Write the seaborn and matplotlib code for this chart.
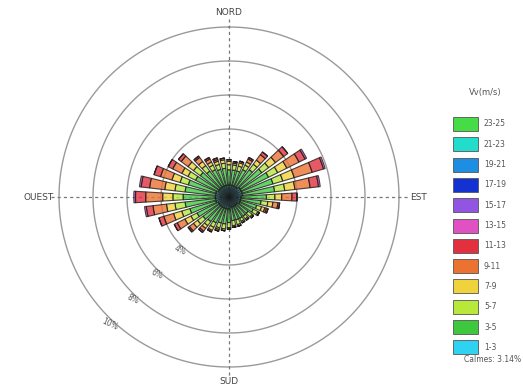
import numpy as np
import matplotlib
matplotlib.use("Agg")
import matplotlib.pyplot as plt
from matplotlib.patches import Rectangle
import seaborn as sns

# Wind directions (degrees from north, clockwise)
directions = [0, 10, 20, 30, 40, 50, 60, 70, 80, 90, 100, 110,
              120, 130, 140, 150, 160, 170, 180, 190, 200, 210, 220, 230,
              240, 250, 260, 270, 280, 290, 300, 310, 320, 330, 340, 350]

# Frequency (%) per speed class and direction
v_1_3 = [0.7, 0.7, 0.7, 0.7, 0.7, 0.8, 0.8, 0.8, 0.8, 0.7, 0.7, 0.7,
         0.7, 0.6, 0.6, 0.6, 0.6, 0.6, 0.7, 0.7, 0.7, 0.7, 0.7, 0.7,
         0.7, 0.8, 0.8, 0.8, 0.8, 0.8, 0.7, 0.7, 0.7, 0.7, 0.7, 0.7]
v_3_5 = [0.9, 0.9, 0.9, 1.1, 1.3, 1.6, 1.8, 1.9, 1.9, 1.5, 1.2, 1.0,
         0.9, 0.8, 0.8, 0.8, 0.8, 0.8, 0.8, 0.9, 0.9, 1.0, 1.1, 1.2,
         1.4, 1.6, 1.8, 1.9, 1.8, 1.7, 1.5, 1.4, 1.2, 1.1, 1.0, 1.0]
v_5_7 = [0.3, 0.3, 0.3, 0.3, 0.4, 0.5, 0.6, 0.6, 0.6, 0.5, 0.4, 0.3,
         0.3, 0.3, 0.2, 0.2, 0.3, 0.3, 0.3, 0.3, 0.3, 0.3, 0.3, 0.4,
         0.4, 0.5, 0.6, 0.6, 0.6, 0.5, 0.5, 0.5, 0.4, 0.3, 0.3, 0.3]
v_7_9 = [0.2, 0.1, 0.2, 0.2, 0.3, 0.5, 0.6, 0.7, 0.6, 0.4, 0.3, 0.2,
         0.1, 0.1, 0.1, 0.1, 0.1, 0.1, 0.1, 0.1, 0.1, 0.2, 0.2, 0.3,
         0.4, 0.5, 0.5, 0.6, 0.6, 0.5, 0.4, 0.4, 0.3, 0.2, 0.2, 0.2]
v_9_11 = [0.1, 0.1, 0.1, 0.2, 0.4, 0.6, 0.8, 1.1, 0.9, 0.6, 0.3, 0.1,
          0.0, 0.0, 0.0, 0.0, 0.0, 0.0, 0.0, 0.0, 0.1, 0.1, 0.2, 0.3,
          0.5, 0.6, 0.8, 1.0, 0.9, 0.7, 0.6, 0.5, 0.3, 0.2, 0.1, 0.1]
v_11_13 = [0.0, 0.0, 0.0, 0.1, 0.2, 0.3, 0.4, 0.7, 0.5, 0.3, 0.1, 0.1,
           0.0, 0.0, 0.0, 0.0, 0.0, 0.0, 0.0, 0.0, 0.0, 0.0, 0.1, 0.1,
           0.2, 0.3, 0.4, 0.6, 0.5, 0.4, 0.3, 0.2, 0.1, 0.1, 0.1, 0.0]
v_13_15 = [0.0, 0.0, 0.0, 0.0, 0.0, 0.0, 0.1, 0.1, 0.1, 0.0, 0.0, 0.0,
           0.0, 0.0, 0.0, 0.0, 0.0, 0.0, 0.0, 0.0, 0.0, 0.0, 0.0, 0.0,
           0.0, 0.0, 0.1, 0.1, 0.1, 0.0, 0.0, 0.0, 0.0, 0.0, 0.0, 0.0]

speed_classes = ["1-3", "3-5", "5-7", "7-9", "9-11", "11-13",
                 "13-15", "15-17", "17-19", "19-21", "21-23", "23-25"]
class_colors = ["#2fd2f0", "#3ec83e", "#b8e83a", "#f0d23c", "#ec7232", "#e2303e",
                "#e052c2", "#9254e2", "#1432d2", "#1e8ee2", "#22dccc", "#46dc46"]
series = [v_1_3, v_3_5, v_5_7, v_7_9, v_9_11, v_11_13, v_13_15]

ring_values = [4, 6, 8, 10]
ring_labels = ["4%", "6%", "8%", "10%"]
cardinals = ["NORD", "EST", "SUD", "OUEST"]
calm_text = "Calmes: 3.14%"

sns.set_theme(style="white")
plt.rcParams["font.family"] = ["DejaVu Sans"]

W, H = 523, 385
fig = plt.figure(figsize=(W / 100, H / 100), dpi=100)
fig.patch.set_facecolor("white")

cx, cy, R = 229, 197, 170
ax = fig.add_axes([(cx - R) / W, (H - cy - R) / H, 2 * R / W, 2 * R / H],
                  projection="polar")
ax.set_theta_zero_location("N")
ax.set_theta_direction(-1)
ax.set_ylim(0, 10)
ax.set_facecolor("white")
ax.spines["polar"].set_visible(False)
ax.grid(False)
ax.set_xticks([])
ax.set_yticks([])

theta = np.deg2rad(directions)
width = np.deg2rad(7.0)
bottom = np.zeros(len(directions))
for vals, col in zip(series, class_colors):
    vals = np.asarray(vals)
    ax.bar(theta, vals, width=width, bottom=bottom, color=col, alpha=0.8,
           edgecolor="#1a1a1a", linewidth=0.8, zorder=3)
    bottom = bottom + vals

# Concentric frequency rings
circ = np.linspace(0, 2 * np.pi, 361)
for rv, lab in zip(ring_values, ring_labels):
    ax.plot(circ, np.full_like(circ, rv), color="#9a9a9a", lw=1.0, zorder=1,
            clip_on=False)
    ax.text(np.deg2rad(223), rv + 0.25, lab, fontsize=5.5, color="#555555",
            ha="center", va="center", rotation=-25, zorder=4)

# Cardinal axes
for ang in [0, 90, 180, 270]:
    ax.plot([np.deg2rad(ang)] * 2, [0, 10.5], color="#777777", lw=0.9,
            ls=(0, (2.5, 2.5)), zorder=2, clip_on=False)

ax.text(np.deg2rad(0), 10.6, cardinals[0], fontsize=6.5, color="#444444",
        ha="center", va="bottom")
ax.text(np.deg2rad(180), 10.6, cardinals[2], fontsize=6.5, color="#444444",
        ha="center", va="top")
ax.text(np.deg2rad(90), 10.65, cardinals[1], fontsize=6.5, color="#444444",
        ha="left", va="center")
ax.text(np.deg2rad(270), 10.3, cardinals[3], fontsize=6.5, color="#444444",
        ha="right", va="center")

# Speed legend
fig.text(485 / W, 1 - 93 / H, "Vv(m/s)", fontsize=6, color="#555555",
         ha="center", va="center")
top0, step, pw, ph = 117, 20.3, 25, 14
for i, (lab, col) in enumerate(zip(speed_classes[::-1], class_colors[::-1])):
    y = top0 + i * step
    fig.patches.append(Rectangle((453 / W, 1 - (y + ph) / H), pw / W, ph / H,
                                 transform=fig.transFigure, facecolor=col,
                                 edgecolor="#555555", linewidth=0.6))
    fig.text(484 / W, 1 - (y + ph / 2) / H, lab, fontsize=5.5, color="#555555",
             ha="left", va="center")
fig.text(521 / W, 1 - 359 / H, calm_text, fontsize=5.5, color="#555555",
         ha="right", va="center")

fig.savefig("out.png", dpi=100, facecolor="white")
